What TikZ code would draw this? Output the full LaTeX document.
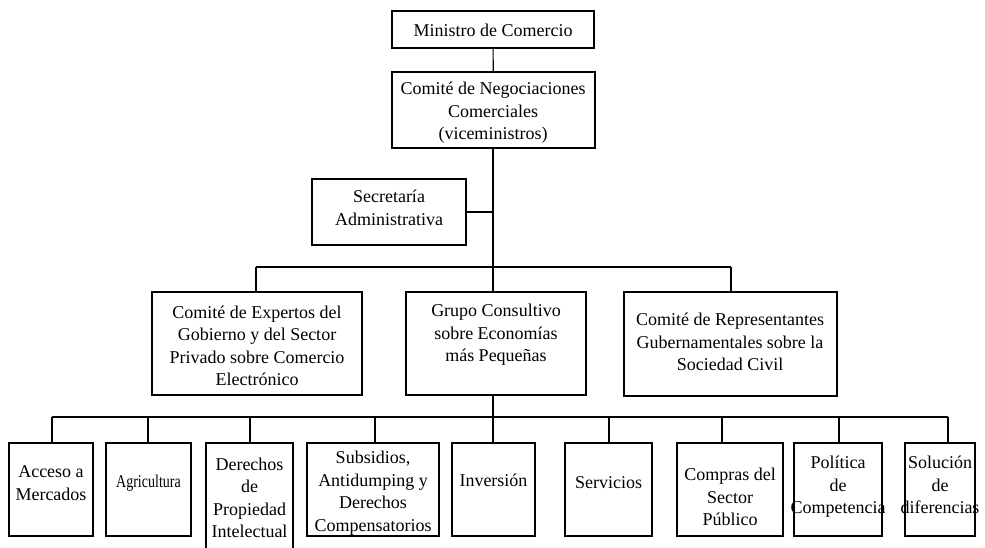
\documentclass[tikz,border=0pt]{standalone}
\usepackage{fontspec}
\setmainfont{Liberation Serif}
\usepackage{graphicx}
\begin{document}
\begin{tikzpicture}[x=1pt,y=-1pt]
\tikzset{
  box/.style={draw,line width=1.1pt,inner sep=0pt},
  txt/.style={align=center,inner sep=0pt,font=\fontsize{18}{22.5}\selectfont},
  con/.style={line width=1.1pt}
}
\useasboundingbox (0,0) rectangle (985,547);
% boxes
\node[box,minimum width=202pt,minimum height=37pt] (min) at (493,29.5) {};
\node[box,minimum width=203pt,minimum height=76pt] (neg) at (493.5,110) {};
\node[box,minimum width=154pt,minimum height=66pt] (sec) at (389,212) {};
\node[box,minimum width=210pt,minimum height=103pt] (exp) at (257,343.5) {};
\node[box,minimum width=180pt,minimum height=103pt] (gru) at (496,343.5) {};
\node[box,minimum width=213pt,minimum height=104pt] (rep) at (730.5,344) {};
\node[box,minimum width=84pt,minimum height=93pt] (acc) at (51,489.5) {};
\node[box,minimum width=85pt,minimum height=93pt] (agr) at (148.5,489.5) {};
\node[box,minimum width=87pt,minimum height=117pt] (der) at (249.5,501.5) {};
\node[box,minimum width=132pt,minimum height=93pt] (sub) at (373,489.5) {};
\node[box,minimum width=83pt,minimum height=93pt] (inv) at (493.5,489.5) {};
\node[box,minimum width=87pt,minimum height=93pt] (ser) at (608.5,489.5) {};
\node[box,minimum width=106pt,minimum height=93pt] (com) at (730,489.5) {};
\node[box,minimum width=88pt,minimum height=93pt] (pol) at (838,489.5) {};
\node[box,minimum width=70pt,minimum height=93pt] (sol) at (940,489.5) {};
% texts
\node[txt] (tmin) at (493,30) {Ministro de Comercio};
\node[txt] (tneg) at (493,113) {Comité de Negociaciones\\Comerciales\\(viceministros)};
\node[txt] (tsec) at (389,208) {Secretaría\\Administrativa};
\node[txt] (texp) at (257,346) {Comité de Expertos del\\Gobierno y del Sector\\Privado sobre Comercio\\Electrónico};
\node[txt] (tgru) at (496,335) {Grupo Consultivo\\sobre Economías\\más Pequeñas};
\node[txt] (trep) at (730,342) {Comité de Representantes\\Gubernamentales sobre la\\Sociedad Civil};
\node[txt] (tacc) at (51,483) {Acceso a\\Mercados};
\node[txt] (tagr) at (148.5,483) {\scalebox{0.78}[1]{Agricultura}};
\node[txt] (tder) at (249.5,498) {Derechos\\de\\Propiedad\\Intelectual};
\node[txt] (tsub) at (373,493) {Subsidios,\\Antidumping y\\Derechos\\Compensatorios};
\node[txt] (tinv) at (493.5,480) {Inversión};
\node[txt] (tser) at (608.5,483) {Servicios};
\node[txt] (tcom) at (730,497) {Compras del\\Sector\\Público};
\node[txt] (tpol) at (838,487) {Política\\de\\Competencia};
\node[txt] (tsol) at (940,485) {Solución\\de\\diferencias};
% junction coordinates
\coordinate (j1) at (493,267);
\coordinate (jl) at (256,267);
\coordinate (jr) at (731,267);
\coordinate (js) at (493,212);
\coordinate (j2) at (493,417);
\coordinate (b1) at (52,417);
\coordinate (b2) at (148,417);
\coordinate (b3) at (250,417);
\coordinate (b4) at (375,417);
\coordinate (b6) at (609,417);
\coordinate (b7) at (722,417);
\coordinate (b8) at (839,417);
\coordinate (b9) at (948,417);
% connectors
\draw[con] (min) -- (neg);
\draw[con] (neg.south -| j1) -- (j1);
\draw[con] (sec.east) -- (js);
\draw[con] (jl) -- (jr);
\draw[con] (jl) -- (jl |- exp.north);
\draw[con] (j1) -- (j1 |- gru.north);
\draw[con] (jr) -- (jr |- rep.north);
\draw[con] (gru.south -| j2) -- (j2);
\draw[con] (b1) -- (b9);
\draw[con] (b1) -- (b1 |- acc.north);
\draw[con] (b2) -- (b2 |- agr.north);
\draw[con] (b3) -- (b3 |- der.north);
\draw[con] (b4) -- (b4 |- sub.north);
\draw[con] (j2) -- (j2 |- inv.north);
\draw[con] (b6) -- (b6 |- ser.north);
\draw[con] (b7) -- (b7 |- com.north);
\draw[con] (b8) -- (b8 |- pol.north);
\draw[con] (b9) -- (b9 |- sol.north);
\end{tikzpicture}
\end{document}
